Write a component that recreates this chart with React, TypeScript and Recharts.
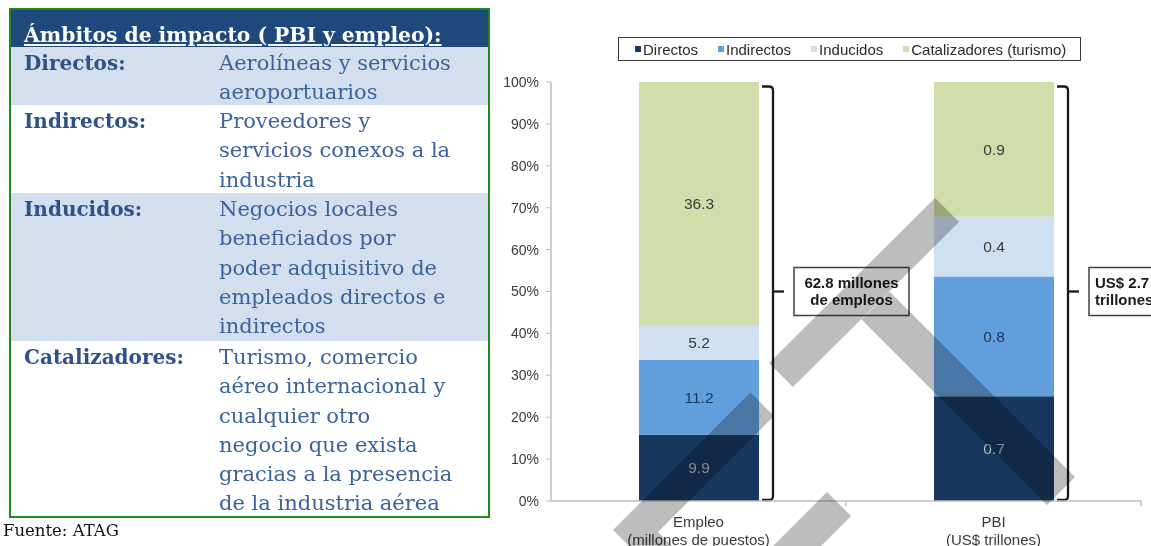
import React from 'react';
import { BarChart, Bar, XAxis, YAxis, LabelList, Rectangle } from 'recharts';

// chart values (label values as printed in the bars)
const categories = ['Empleo', 'PBI'];
const categorySubtitles = ['(millones de puestos)', '(US$ trillones)'];
const directos = [9.9, 0.7];
const indirectos = [11.2, 0.8];
const inducidos = [5.2, 0.4];
const catalizadores = [36.3, 0.9];
const totalLines = [
  ['62.8 millones', 'de empleos'],
  ['US$ 2.7', 'trillones'],
];
const yTicks = [0, 0.1, 0.2, 0.3, 0.4, 0.5, 0.6, 0.7, 0.8, 0.9, 1];

// side table text
const rowLabels = ['Directos:', 'Indirectos:', 'Inducidos:', 'Catalizadores:'];
const rowTexts = [
  ['Aerolíneas y servicios', 'aeroportuarios'],
  ['Proveedores y', 'servicios conexos a la', 'industria'],
  ['Negocios locales', 'beneficiados por', 'poder adquisitivo de', 'empleados directos e', 'indirectos'],
  ['Turismo, comercio', 'aéreo internacional y', 'cualquier otro', 'negocio que exista', 'gracias a la presencia', 'de la industria aérea'],
];
const rowHeights = [58, 88, 148, 175];
const rowBgs = ['#d3dfee', '#ffffff', '#d3dfee', '#ffffff'];

const data = categories.map((name, i) => ({
  name,
  directos: directos[i],
  indirectos: indirectos[i],
  inducidos: inducidos[i],
  catalizadores: catalizadores[i],
}));

const SERIES = [
  { key: 'directos', name: 'Directos', color: '#17375e', text: '#aeb6c0' },
  { key: 'indirectos', name: 'Indirectos', color: '#629fdd', text: '#1d3557' },
  { key: 'inducidos', name: 'Inducidos', color: '#cfe0f3', text: '#3a3a3a' },
  { key: 'catalizadores', name: 'Catalizadores (turismo)', color: '#d1deab', text: '#3a3a3a' },
];

const SANS = '"Liberation Sans", Arial, sans-serif';
const SERIF = '"DejaVu Serif", serif';

const CategoryTick = (props: any) => {
  const { x, y, payload, index } = props;
  return (
    <g>
      <line x1={x + 147.5} x2={x + 147.5} y1={y} y2={y + 5} stroke="#bfbfbf" strokeWidth={1.5} />
      <text x={x} y={y + 25.5} textAnchor="middle" fontSize={15} fontFamily={SANS} fill="#3a3a3a">
        {payload.value}
      </text>
      <text x={x} y={y + 43.5} textAnchor="middle" fontSize={15} fontFamily={SANS} fill="#3a3a3a">
        {categorySubtitles[index]}
      </text>
    </g>
  );
};

// top segment + bracket and total box to its right
const TopWithBracket = (props: any) => {
  const { x, y, width, height, fill, payload, index } = props;
  const total = payload.directos + payload.indirectos + payload.inducidos + payload.catalizadores;
  const bottom = y + height / (payload.catalizadores / total);
  const bx = x + width + 14;
  const top = y + 4.5;
  const bot = bottom - 1;
  const mid = (y + bottom) / 2;
  const boxX = bx + 21;
  const lines = totalLines[index] || [];
  const centered = index === 0;
  return (
    <g>
      <Rectangle x={x} y={y} width={width} height={height} fill={fill} />
      <path
        d={`M${x + width + 3},${top} L${bx - 4},${top} Q${bx},${top} ${bx},${top + 4} L${bx},${bot - 4} Q${bx},${bot} ${bx - 4},${bot} L${x + width + 3},${bot}`}
        fill="none"
        stroke="#1a1a1a"
        strokeWidth={2.3}
      />
      <path d={`M${bx},${mid} L${bx + 11},${mid}`} stroke="#1a1a1a" strokeWidth={2.3} />
      <rect x={boxX} y={mid - 24} width={115} height={48} fill="#fff" stroke="#404040" strokeWidth={1.5} />
      {lines.map((t: string, i: number) => (
        <text
          key={t}
          x={centered ? boxX + 57.5 : boxX + 6}
          y={mid - 3.5 + i * 16.5}
          textAnchor={centered ? 'middle' : 'start'}
          fontSize={15}
          fontWeight="bold"
          fontFamily={SANS}
          fill="#1a1a1a"
        >
          {t}
        </text>
      ))}
    </g>
  );
};

const SideTable = () => (
  <div
    style={{
      position: 'absolute',
      left: 9,
      top: 8,
      width: 481,
      height: 510,
      border: '2px solid #1b8c1b',
      boxSizing: 'border-box',
      fontFamily: SERIF,
      overflow: 'hidden',
    }}
  >
    <div
      style={{
        height: 37,
        background: '#1f497d',
        color: '#fff',
        fontWeight: 'bold',
        fontSize: 20.3,
        lineHeight: '24px',
        paddingTop: 13,
        paddingLeft: 13,
        boxSizing: 'border-box',
        textDecoration: 'underline',
        whiteSpace: 'nowrap',
      }}
    >
      Ámbitos de impacto ( PBI y empleo):
    </div>
    {rowLabels.map((label, i) => (
      <div key={label} style={{ position: 'relative', height: rowHeights[i], background: rowBgs[i] }}>
        <div
          style={{
            position: 'absolute',
            left: 13,
            top: 2,
            fontWeight: 'bold',
            fontSize: 20,
            lineHeight: '29.3px',
            color: '#2e5188',
            whiteSpace: 'nowrap',
          }}
        >
          {label}
        </div>
        <div
          style={{
            position: 'absolute',
            left: 208,
            top: 2,
            fontSize: 21,
            lineHeight: '29.3px',
            color: '#3b639b',
            whiteSpace: 'nowrap',
          }}
        >
          {rowTexts[i].map((t) => (
            <div key={t}>{t}</div>
          ))}
        </div>
      </div>
    ))}
  </div>
);

const ChartLegend = () => (
  <div
    style={{
      position: 'absolute',
      left: 618,
      top: 37,
      width: 463,
      height: 24,
      border: '1px solid #3a3a3a',
      boxSizing: 'border-box',
      display: 'flex',
      alignItems: 'center',
      paddingLeft: 16,
      fontFamily: SANS,
      fontSize: 15,
      color: '#2a2a2a',
      whiteSpace: 'nowrap',
    }}
  >
    {SERIES.map((s) => (
      <div key={s.key} style={{ display: 'flex', alignItems: 'center', marginRight: 20 }}>
        <span style={{ width: 6, height: 6, background: s.color, marginRight: 2, display: 'inline-block' }} />
        <span>{s.name}</span>
      </div>
    ))}
  </div>
);

const Watermark = () => (
  <svg
    width={1151}
    height={546}
    style={{ position: 'absolute', left: 0, top: 0, pointerEvents: 'none', mixBlendMode: 'multiply' }}
  >
    <path
      fill="#bdbdbd"
      d="M613,530 L750.5,392.5 L774,416 L658,532 L672,546 L629,546 Z M773,546 L827,492 L851,516 L821,546 Z M769,363 L935,198 L959,222 L793,387 Z M889.5,291.5 L1075,477 L1047,505 L861.5,319.5 Z"
    />
  </svg>
);

export default function App() {
  return (
    <div
      style={{
        position: 'fixed',
        left: 0,
        top: 0,
        width: 1151,
        height: 546,
        overflow: 'hidden',
        background: '#fff',
      }}
    >
      <SideTable />
      <div
        style={{
          position: 'absolute',
          left: 3,
          top: 519,
          fontFamily: SERIF,
          fontSize: 16.5,
          lineHeight: '24px',
          color: '#111',
          whiteSpace: 'nowrap',
        }}
      >
        Fuente: ATAG
      </div>
      <div style={{ position: 'absolute', left: 490, top: 0 }}>
        <BarChart
          width={661}
          height={546}
          data={data}
          stackOffset="expand"
          barSize={120}
          margin={{ top: 82, right: 10, bottom: 0, left: 0 }}
        >
          <YAxis
            type="number"
            domain={[0, 1]}
            ticks={yTicks}
            width={61}
            tickFormatter={(v: number) => `${Math.round(v * 100)}%`}
            axisLine={{ stroke: '#bfbfbf', strokeWidth: 1.5 }}
            tickLine={{ stroke: '#bfbfbf' }}
            tickSize={5}
            tickMargin={7}
            tick={{ fill: '#3a3a3a', fontSize: 14, fontFamily: SANS }}
          />
          <XAxis
            dataKey="name"
            height={45}
            axisLine={{ stroke: '#bfbfbf', strokeWidth: 1.5 }}
            tickLine={false}
            tickSize={0}
            tickMargin={0}
            interval={0}
            tick={<CategoryTick />}
          />
          {SERIES.map((s) => (
            <Bar
              key={s.key}
              dataKey={s.key}
              name={s.name}
              stackId="a"
              fill={s.color}
              isAnimationActive={false}
              shape={s.key === 'catalizadores' ? (p: any) => <TopWithBracket {...p} /> : undefined}
            >
              <LabelList
                dataKey={s.key}
                position="center"
                fill={s.text}
                fontSize={15.5}
                fontFamily={SANS}
              />
            </Bar>
          ))}
        </BarChart>
      </div>
      <ChartLegend />
      <Watermark />
    </div>
  );
}
